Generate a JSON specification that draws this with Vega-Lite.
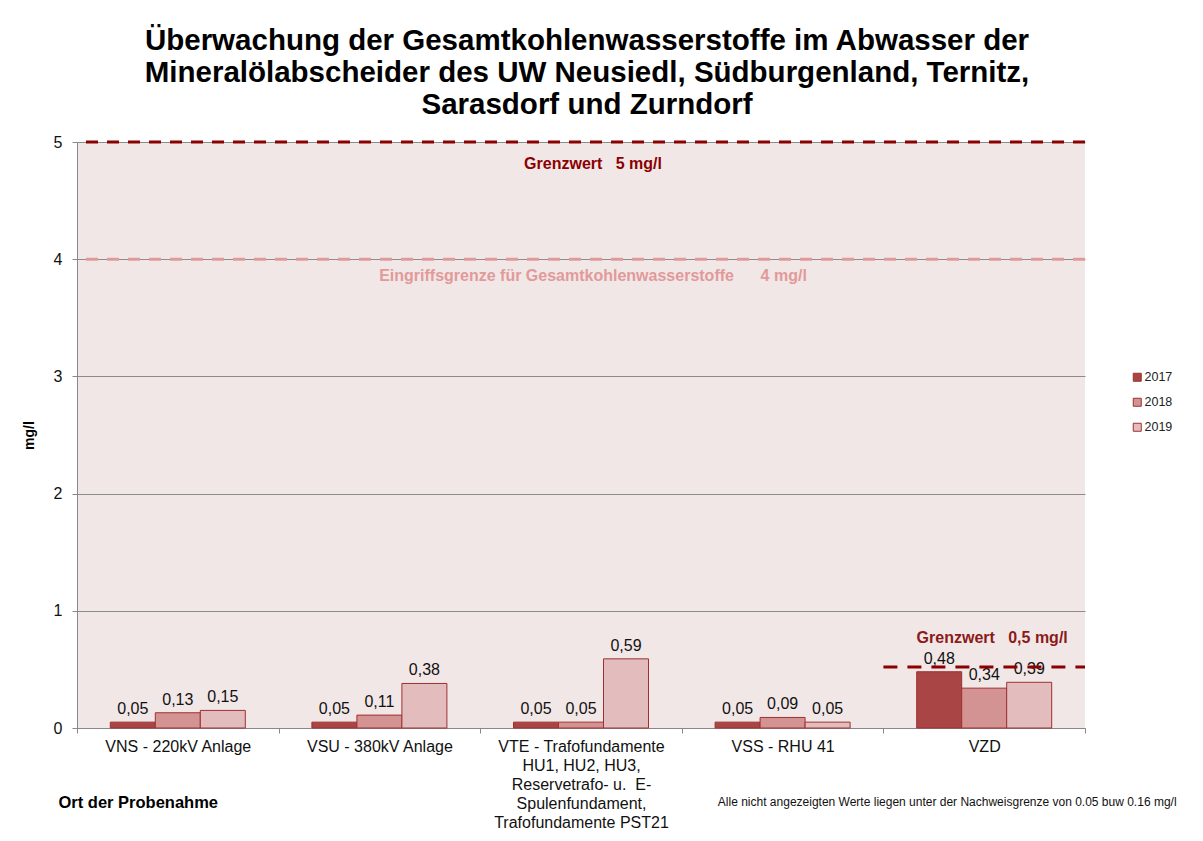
{
  "$schema": "https://vega.github.io/schema/vega-lite/v6.json",
  "width": 1008,
  "height": 586,
  "autosize": {"type": "none"},
  "padding": {"left": 77, "top": 142, "right": 118, "bottom": 113},
  "background": "white",
  "title": {
    "text": ["Überwachung der Gesamtkohlenwasserstoffe im Abwasser der", "Mineralölabscheider des UW Neusiedl, Südburgenland, Ternitz,", "Sarasdorf und Zurndorf"],
    "font": "Liberation Sans",
    "fontSize": 29.5,
    "fontWeight": "bold",
    "lineHeight": 32,
    "color": "#000000",
    "anchor": "middle",
    "offset": 14,
    "dx": 6
  },
  "config": {
    "locale": {"number": {"decimal": ",", "thousands": ".", "grouping": [3], "currency": ["", " €"]}},
    "view": {"fill": "#F2E7E7", "stroke": null},
    "font": "Liberation Sans"
  },
  "data": {
    "values": [
      {"ort": "VNS - 220kV Anlage", "jahr": "2017", "wert": 0.05},
      {"ort": "VNS - 220kV Anlage", "jahr": "2018", "wert": 0.13},
      {"ort": "VNS - 220kV Anlage", "jahr": "2019", "wert": 0.15},
      {"ort": "VSU - 380kV Anlage", "jahr": "2017", "wert": 0.05},
      {"ort": "VSU - 380kV Anlage", "jahr": "2018", "wert": 0.11},
      {"ort": "VSU - 380kV Anlage", "jahr": "2019", "wert": 0.38},
      {"ort": "VTE - Trafofundamente|HU1, HU2, HU3,|Reservetrafo- u.\u00a0 E-|Spulenfundament,|Trafofundamente PST21", "jahr": "2017", "wert": 0.05},
      {"ort": "VTE - Trafofundamente|HU1, HU2, HU3,|Reservetrafo- u.\u00a0 E-|Spulenfundament,|Trafofundamente PST21", "jahr": "2018", "wert": 0.05},
      {"ort": "VTE - Trafofundamente|HU1, HU2, HU3,|Reservetrafo- u.\u00a0 E-|Spulenfundament,|Trafofundamente PST21", "jahr": "2019", "wert": 0.59},
      {"ort": "VSS - RHU 41", "jahr": "2017", "wert": 0.05},
      {"ort": "VSS - RHU 41", "jahr": "2018", "wert": 0.09},
      {"ort": "VSS - RHU 41", "jahr": "2019", "wert": 0.05},
      {"ort": "VZD", "jahr": "2017", "wert": 0.48},
      {"ort": "VZD", "jahr": "2018", "wert": 0.34},
      {"ort": "VZD", "jahr": "2019", "wert": 0.39}
    ]
  },
  "layer": [
    {
      "mark": {"type": "bar", "stroke": "#9E3030", "strokeWidth": 1},
      "encoding": {
        "x": {
          "field": "ort",
          "type": "nominal",
          "sort": null,
          "scale": {
            "domain": ["VNS - 220kV Anlage", "VSU - 380kV Anlage", "VTE - Trafofundamente|HU1, HU2, HU3,|Reservetrafo- u.\u00a0 E-|Spulenfundament,|Trafofundamente PST21", "VSS - RHU 41", "VZD"],
            "paddingInner": 0,
            "paddingOuter": 0
          },
          "axis": {
            "title": "Ort der Probenahme",
            "titleFont": "Liberation Sans",
            "titleFontSize": 16.5,
            "titleFontWeight": "bold",
            "titleColor": "#000000",
            "titleAnchor": "start",
            "titleAlign": "left",
            "titleBaseline": "middle",
            "titleX": -19,
            "titleY": 74,
            "labelExpr": "split(datum.label, '|')",
            "labelFont": "Liberation Sans",
            "labelFontSize": 16,
            "labelLineHeight": 19,
            "labelColor": "#111111",
            "labelPadding": 5,
            "labelAngle": 0,
            "labelLimit": 400,
            "labelOverlap": false,
            "tickBand": "extent",
            "tickSize": 5,
            "tickColor": "#888888",
            "domainColor": "#888888",
            "grid": false
          }
        },
        "xOffset": {"field": "jahr", "type": "nominal", "scale": {"paddingInner": 0, "paddingOuter": 0.74}},
        "y": {
          "field": "wert",
          "type": "quantitative",
          "scale": {"domain": [0, 5], "nice": false},
          "axis": {
            "title": "mg/l",
            "titleFont": "Liberation Sans",
            "titleFontSize": 14,
            "titleFontWeight": "bold",
            "titleColor": "#000000",
            "titlePadding": 17,
            "values": [0, 1, 2, 3, 4, 5],
            "format": "d",
            "grid": true,
            "gridColor": "#8C8C8C",
            "gridWidth": 1,
            "labelFont": "Liberation Sans",
            "labelFontSize": 16,
            "labelColor": "#111111",
            "labelPadding": 10,
            "tickSize": 5,
            "tickColor": "#888888",
            "domainColor": "#888888"
          }
        },
        "color": {
          "field": "jahr",
          "type": "nominal",
          "scale": {"domain": ["2017", "2018", "2019"], "range": ["#A94545", "#D49393", "#E3BDBD"]},
          "legend": {
            "title": null,
            "orient": "none",
            "legendX": 1054,
            "legendY": 229,
            "symbolType": "square",
            "symbolSize": 64,
            "symbolStrokeColor": "#9E3030",
            "symbolStrokeWidth": 1,
            "symbolOpacity": 1,
            "labelFont": "Liberation Sans",
            "labelFontSize": 12.5,
            "labelColor": "#222222",
            "labelOffset": 1,
            "rowPadding": 12
          }
        }
      }
    },
    {
      "mark": {"type": "text", "baseline": "alphabetic", "dy": -8, "fontSize": 16, "font": "Liberation Sans", "color": "#111111"},
      "encoding": {
        "x": {"field": "ort", "type": "nominal", "sort": null},
        "xOffset": {"field": "jahr", "type": "nominal"},
        "y": {"field": "wert", "type": "quantitative"},
        "text": {"field": "wert", "type": "quantitative", "format": ".2f"}
      }
    },
    {
      "data": {"values": [{}]},
      "mark": {"type": "rule", "color": "#8B0000", "strokeWidth": 3, "strokeDash": [12, 9]},
      "encoding": {"y": {"datum": 5}}
    },
    {
      "data": {"values": [{}]},
      "mark": {"type": "rule", "color": "#E19A9A", "strokeWidth": 3, "strokeDash": [12, 9]},
      "encoding": {"y": {"datum": 4}}
    },
    {
      "data": {"values": [{"ort": "VZD", "wert": 0.52}]},
      "mark": {"type": "rule", "color": "#8B0000", "strokeWidth": 3, "strokeDash": [14, 10]},
      "encoding": {
        "x": {"field": "ort", "type": "nominal", "bandPosition": 0},
        "x2": {"field": "ort", "bandPosition": 1},
        "y": {"field": "wert", "type": "quantitative"}
      }
    },
    {
      "data": {"values": [{}]},
      "mark": {"type": "text", "text": "Grenzwert\u00a0\u00a0 5 mg/l", "font": "Liberation Sans", "fontSize": 16, "fontWeight": "bold", "color": "#8B0000", "baseline": "middle", "dx": 12},
      "encoding": {
        "x": {"datum": "VTE - Trafofundamente|HU1, HU2, HU3,|Reservetrafo- u.\u00a0 E-|Spulenfundament,|Trafofundamente PST21"},
        "y": {"datum": 4.81}
      }
    },
    {
      "data": {"values": [{}]},
      "mark": {"type": "text", "text": "Eingriffsgrenze für Gesamtkohlenwasserstoffe\u00a0\u00a0\u00a0\u00a0\u00a0 4 mg/l", "font": "Liberation Sans", "fontSize": 16, "fontWeight": "bold", "color": "#E19A9A", "baseline": "middle", "dx": 12},
      "encoding": {
        "x": {"datum": "VTE - Trafofundamente|HU1, HU2, HU3,|Reservetrafo- u.\u00a0 E-|Spulenfundament,|Trafofundamente PST21"},
        "y": {"datum": 3.86}
      }
    },
    {
      "data": {"values": [{}]},
      "mark": {"type": "text", "text": "Grenzwert\u00a0\u00a0 0,5 mg/l", "font": "Liberation Sans", "fontSize": 16, "fontWeight": "bold", "color": "#8B1A1A", "baseline": "middle", "dx": 8},
      "encoding": {
        "x": {"datum": "VZD"},
        "y": {"datum": 0.77}
      }
    },
    {
      "data": {"values": [{}]},
      "mark": {"type": "text", "text": "Alle nicht angezeigten Werte liegen unter der Nachweisgrenze von 0.05 buw 0.16 mg/l", "font": "Liberation Sans", "fontSize": 12, "color": "#111111", "baseline": "middle", "dx": -37},
      "encoding": {
        "x": {"datum": "VZD"},
        "y": {"datum": -0.63}
      }
    }
  ]
}
